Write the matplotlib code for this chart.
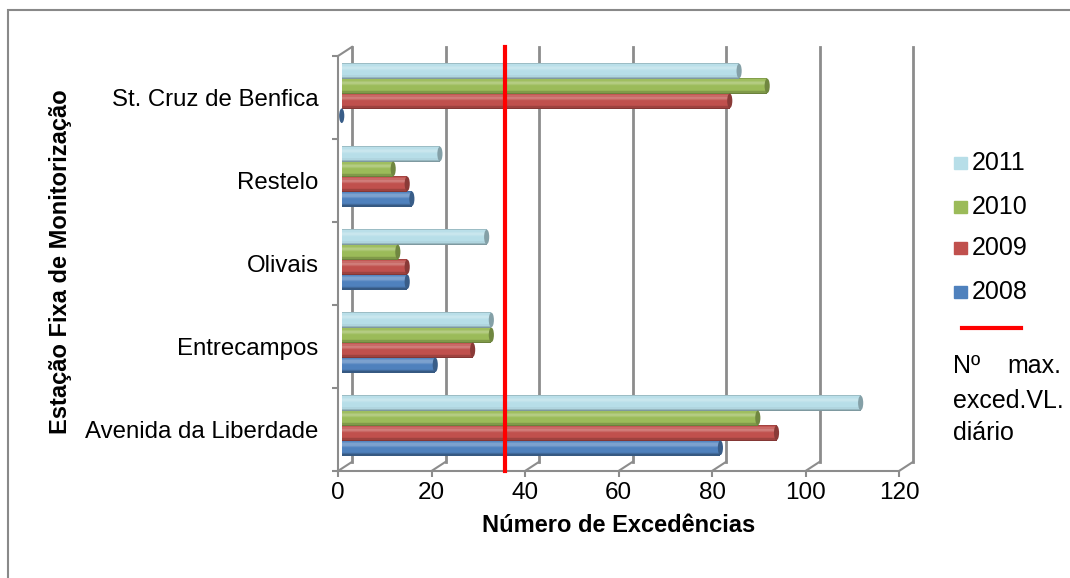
import numpy as np
import matplotlib
matplotlib.use("Agg")
import matplotlib.pyplot as plt
from matplotlib.patches import Ellipse, Rectangle
from matplotlib.lines import Line2D
from matplotlib.colors import to_rgb

plt.rcParams["font.family"] = ["Liberation Sans", "DejaVu Sans"]

stations = ["Avenida da Liberdade", "Entrecampos", "Olivais", "Restelo", "St. Cruz de Benfica"]
years = ["2008", "2009", "2010", "2011"]
v2008 = [81, 20, 14, 15, 0]
v2009 = [93, 28, 14, 14, 83]
v2010 = [89, 32, 12, 11, 91]
v2011 = [111, 32, 31, 21, 85]
limit = 35
colors = ["#4F81BD", "#C0504D", "#9BBB59", "#B7DEE8"]
xticks = [0, 20, 40, 60, 80, 100, 120]

W, H = 1070, 578
fig = plt.figure(figsize=(W / 100, H / 100), dpi=100)


def fx(px):
    return px / W


def fy(py):
    return 1 - py / H


# outer chart border
fig.add_artist(Rectangle((fx(8), fy(H + 5)), fx(W), fy(10) - fy(H + 5),
                         transform=fig.transFigure, fill=False,
                         edgecolor="#898989", lw=1.5))

ax = fig.add_axes([fx(338), fy(471), fx(899) - fx(338), fy(56) - fy(471)])
ax.set_xlim(0, 120)
ax.set_ylim(-0.5, 4.5)

DX, DY = 3.0, 0.11   # depth of the 3d box in data units
OFF = 0.8            # bars sit half way into the box
grid_c = "#8C8C8C"

# back wall grid lines and floor diagonals
for v in xticks:
    ax.plot([v + DX, v + DX], [-0.5 + DY, 4.5 + DY], color=grid_c, lw=2,
            clip_on=False, zorder=1)
    ax.plot([v, v + DX], [-0.5, -0.5 + DY], color=grid_c, lw=1.5,
            clip_on=False, zorder=1)
ax.plot([0, DX], [4.5, 4.5 + DY], color=grid_c, lw=1.5, clip_on=False, zorder=1)


def shade(base, t):
    # t: 0 bottom -> 1 top of the cylinder
    if t < 0.2:
        f = 0.62 + 0.38 * t / 0.2
        return base * f
    if t > 0.92:
        return base * 0.85
    hl = max(0.0, 1 - abs(t - 0.72) / 0.2)
    return base + (1 - base) * 0.3 * hl


# cylinder-like bars
h = 0.185
step = 0.18
nstripe = 14
series = [v2008, v2009, v2010, v2011]
ypos = np.arange(len(stations)) + 0.05
for k, (vals, c) in enumerate(zip(series, colors)):
    base = np.array(to_rgb(c))
    yc = ypos + (k - 1.5) * step
    for s in range(nstripe):
        t = (s + 0.5) / nstripe
        col = np.clip(shade(base, t), 0, 1)
        ax.barh(yc - h / 2 + t * h, vals, height=h / nstripe + 0.003,
                left=OFF, color=col, lw=0, zorder=3)
    for y, v in zip(yc, vals):
        ax.add_patch(Ellipse((OFF + v, y), 1.1, h * 0.95, facecolor=base * 0.72,
                             edgecolor="none", zorder=4, clip_on=False))

# limit line
ax.plot([limit + OFF, limit + OFF], [-0.5, 4.5 + DY], color="#FF0000", lw=3,
        clip_on=False, zorder=6)

for side in ["top", "right"]:
    ax.spines[side].set_visible(False)
for side in ["left", "bottom"]:
    ax.spines[side].set_color(grid_c)
    ax.spines[side].set_linewidth(1.5)

ax.set_xticks(xticks)
ax.set_xticklabels([str(v) for v in xticks])
ax.tick_params(axis="x", length=4, width=1.5, color=grid_c, labelsize=17.5, pad=4)
ax.set_yticks(np.arange(len(stations)))
ax.set_yticklabels(stations)
ax.tick_params(axis="y", which="major", length=0, labelsize=17.3, pad=14)
ax.set_yticks(np.arange(-0.5, 5, 1), minor=True)
ax.tick_params(axis="y", which="minor", length=4, width=1.5, color=grid_c)

ax.set_xlabel("Número de Excedências", fontsize=17, fontweight="bold", labelpad=7)
fig.text(fx(61), fy(262), "Estação Fixa de Monitorização", rotation=90,
         fontsize=17, fontweight="bold", ha="center", va="center")

# legend drawn by hand (justified text block like the original)
leg_y = [163, 207, 248, 292]
for y, c, lab in zip(leg_y, colors[::-1], years[::-1]):
    fig.add_artist(Rectangle((fx(954), fy(y + 6)), fx(13), fy(0) - fy(12),
                             transform=fig.transFigure, color=c))
    fig.text(fx(972), fy(y), lab, fontsize=18, va="center", ha="left")
fig.add_artist(Line2D([fx(962), fx(1021)], [fy(328), fy(328)],
                      transform=fig.transFigure, color="#FF0000", lw=3))
fig.text(fx(953), fy(366), "Nº", fontsize=18, va="center", ha="left")
fig.text(fx(1061), fy(366), "max.", fontsize=18, va="center", ha="right")
fig.text(fx(953), fy(401), "exced.VL.", fontsize=18, va="center", ha="left")
fig.text(fx(953), fy(433), "diário", fontsize=18, va="center", ha="left")

fig.savefig("out.png", dpi=100)
